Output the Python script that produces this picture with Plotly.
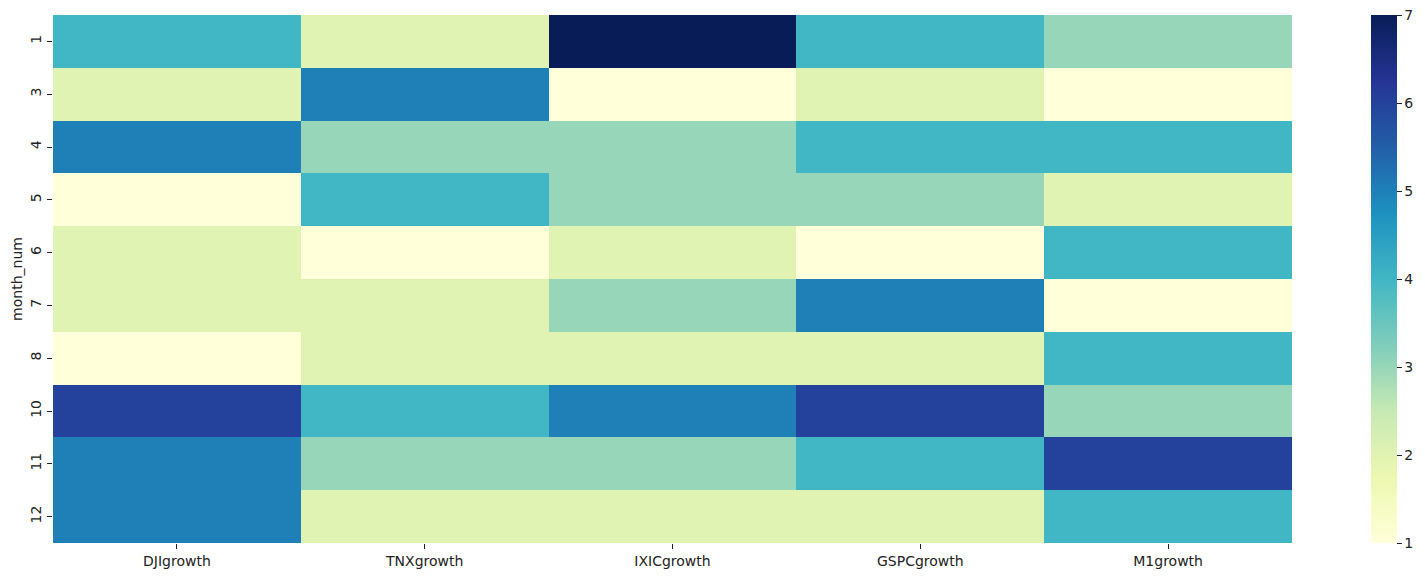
import plotly.graph_objects as go

columns = ["DJIgrowth", "TNXgrowth", "IXICgrowth", "GSPCgrowth", "M1growth"]
months = ["1", "3", "4", "5", "6", "7", "8", "10", "11", "12"]
DJIgrowth = [4, 2, 5, 1, 2, 2, 1, 6, 5, 5]
TNXgrowth = [2, 5, 3, 4, 1, 2, 2, 4, 3, 2]
IXICgrowth = [7, 1, 3, 3, 2, 3, 2, 5, 3, 2]
GSPCgrowth = [4, 2, 4, 3, 1, 5, 2, 6, 4, 2]
M1growth = [3, 1, 4, 2, 4, 1, 4, 3, 6, 4]

series = [DJIgrowth, TNXgrowth, IXICgrowth, GSPCgrowth, M1growth]
z = [[s[i] for s in series] for i in range(len(months))]

ylgnbu = ["#ffffd9", "#edf8b1", "#c7e9b4", "#7fcdbb", "#41b6c4",
          "#1d91c0", "#225ea8", "#253494", "#081d58"]
colorscale = [[i / (len(ylgnbu) - 1), c] for i, c in enumerate(ylgnbu)]

fig = go.Figure(go.Heatmap(
    z=z, x=columns, y=months,
    colorscale=colorscale, zmin=1, zmax=7,
    colorbar=dict(
        x=1.0637, xanchor="left", xref="paper",
        y=0.5, yanchor="middle", len=1, lenmode="fraction", ypad=0, xpad=0,
        thickness=26, thicknessmode="pixels",
        outlinewidth=0,
        tickvals=[1, 2, 3, 4, 5, 6, 7],
        ticks="outside", ticklen=5, tickcolor="#222",
        tickfont=dict(family="DejaVu Sans", size=14, color="#222"),
    ),
))

fig.update_layout(
    width=1425, height=577,
    margin=dict(l=53, r=133, t=15, b=34, autoexpand=False),
    paper_bgcolor="white", plot_bgcolor="white",
    font=dict(family="DejaVu Sans", size=14, color="#222"),
)
fig.update_xaxes(
    type="category", showgrid=False, zeroline=False, showline=False,
    ticks="outside", ticklen=5, tickcolor="#222", automargin=False,
    tickfont=dict(size=14),
)
fig.update_yaxes(
    type="category", autorange="reversed", showgrid=False, zeroline=False,
    showline=False, ticks="outside", ticklen=5, tickcolor="#222",
    tickangle=-90, tickfont=dict(size=14), automargin=False,
    title=dict(text="month_num", font=dict(size=14), standoff=2),
)

fig.write_html(
    "out.html",
    config={"displayModeBar": False},
    post_script="document.body.style.margin='0';document.body.style.overflow='hidden';",
)
